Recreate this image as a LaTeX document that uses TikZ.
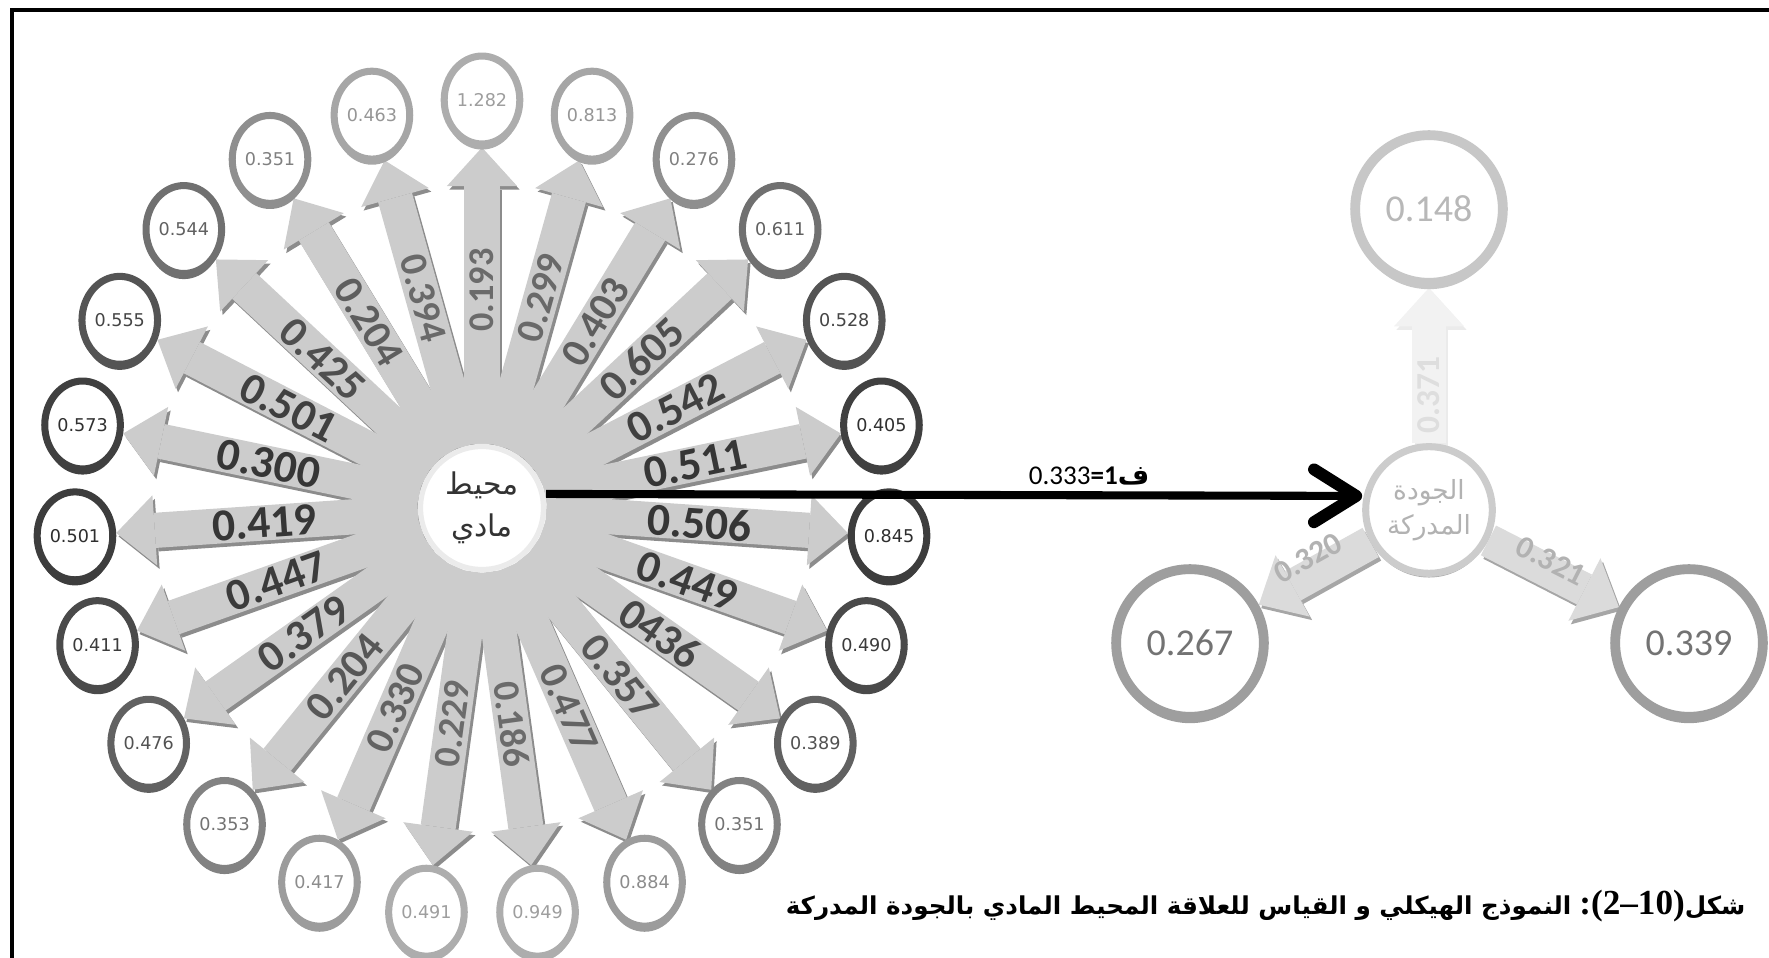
\documentclass[tikz,border=0pt]{standalone}
\usepackage{fontspec}
\setmainfont{Carlito}
\newfontfamily\numfont{DejaVu Sans}
\newfontfamily\arabicfont[Script=Arabic]{DejaVu Sans}
\newfontfamily\capnumfont{Liberation Serif}
\TeXXeTstate=1
\usetikzlibrary{arrows.meta,shapes.geometric,calc,positioning,backgrounds}
\pgfdeclarelayer{shade}
\pgfsetlayers{shade,background,main}

\begin{document}
\begin{tikzpicture}[x=0.01cm, y=0.01cm,
  hub/.style={circle, fill=white, draw=black!8, line width=1.5pt,
              minimum size=35pt, inner sep=0pt, align=center},
  indic/.style={ellipse, fill=white, draw=#1, line width=2pt,
                minimum width=21.5pt, minimum height=25pt, inner sep=0pt,
                preaction={fill=#1, transform canvas={yshift=-1.6pt}},
                font=\numfont\fontsize{5}{6}\selectfont},
  bigind/.style={circle, fill=white, draw=#1, line width=2.8pt,
                 minimum size=42pt, inner sep=0pt,
                 preaction={fill=#1, transform canvas={yshift=-1.8pt}},
                 font=\fontsize{10.8}{12}\selectfont},
  flow/.style={draw=#1, line width=10pt,
               -{Triangle[width=20pt, length=11pt, line width=0pt]}},
  flowshade/.style={flow=#1, transform canvas={shift={(0.7pt,-1pt)}}},
  coef/.style={inner sep=0pt},
  link/.style={line width=2.3pt,
               -{Straight Barb[length=12pt, width=15pt, line width=3.4pt, round]}}
]
\useasboundingbox (0,0) rectangle (1769,-958);

% frame
\draw[line width=1.2pt] (12,-958) -- (12,-10) -- (1769,-10);

% left model: physical environment
\node[hub, text=black!80, font=\arabicfont\fontsize{8.5}{12}\selectfont]
  (hubL) at (482,-508) {\beginR محيط\endR\\\beginR مادي\endR};

\foreach \val/\lab [count=\i from 0] in {1.282/0.193, 0.463/0.394,
    0.351/0.204, 0.544/0.425, 0.555/0.501, 0.573/0.300, 0.501/0.419,
    0.411/0.447, 0.476/0.379, 0.353/0.204, 0.417/0.330, 0.491/0.229,
    0.949/0.186, 0.884/0.477, 0.351/0.357, 0.389/0436, 0.490/0.449,
    0.845/0.506, 0.405/0.511, 0.528/0.542, 0.611/0.605, 0.276/0.403,
    0.813/0.299} {
  \pgfmathsetmacro\a{90+\i*360/23}
  \pgfmathtruncatemacro\k{32+45*cos(\a)^2}
  \pgfmathtruncatemacro\t{38+45*cos(\a)^2}
  \pgfmathtruncatemacro\c{58+22*cos(\a)^2}
  \pgfmathsetmacro\fs{10.3+2.7*abs(cos(\a))}
  \pgfmathsetmacro\r{cos(\a)>-0.01 ? \a : \a-180}
  \node[indic=black!\k, text=black!\t] (o\i) at ($(hubL)+(\a:408)$) {\val};
  \begin{pgfonlayer}{shade}
    \draw[flowshade=black!45] (hubL) -- (o\i);
  \end{pgfonlayer}
  \begin{pgfonlayer}{background}
    \draw[flow=black!20] (hubL) -- (o\i);
  \end{pgfonlayer}
  \node[coef, rotate=\r, text=black!\c, font=\bfseries\fontsize{\fs}{\fs}\selectfont]
    (c\i) at ($(hubL)+(\a:218)$) {\lab};
}

% right model: perceived quality
\node[hub, minimum size=36pt, draw=black!20, line width=2pt, text=black!30,
      font=\arabicfont\fontsize{7.5}{10}\selectfont,
      preaction={fill=black!32, transform canvas={yshift=-1.2pt}}]
  (hubR) at (1429,-510) {\beginR الجودة\endR\\\beginR المدركة\endR};
\node[bigind=black!22, text=black!28] (n148) at (1429,-209) {0.148};
\node[bigind=black!38, text=black!55] (n267) at (1190,-643) {0.267};
\node[bigind=black!38, text=black!55] (n339) at (1689,-643) {0.339};

\begin{pgfonlayer}{shade}
  \draw[flowshade=black!8, line width=9.5pt] (hubR) -- (n148);
  \draw[flowshade=black!35, line width=9.5pt] (hubR) -- (n267);
  \draw[flowshade=black!35, line width=9.5pt] (hubR) -- (n339);
\end{pgfonlayer}
\begin{pgfonlayer}{background}
  \draw[flow=black!5, line width=9.5pt] (hubR) -- (n148);
  \draw[flow=black!14, line width=9.5pt] (hubR) -- (n267);
  \draw[flow=black!14, line width=9.5pt] (hubR) -- (n339);
\end{pgfonlayer}
\node[coef, rotate=90, text=black!13, font=\bfseries\fontsize{9.5}{9.5}\selectfont]
  (c371) at ($(hubR)+(0,115)$) {0.371};
\node[coef, rotate=29, text=black!30, font=\bfseries\fontsize{9}{9}\selectfont]
  (c320) at ($(hubR)+(-121,-48)$) {0.320};
\node[coef, rotate=-27, text=black!30, font=\bfseries\fontsize{9}{9}\selectfont]
  (c321) at ($(hubR)+(122,-51)$) {0.321};

% structural path
\draw[link] ([yshift=4pt]hubL.east) -- ([yshift=4pt]hubR.west);
\node[font=\fontsize{7.7}{9}\selectfont] (f1) at (1089,-476)
  {0.333\textbf{=1}{\arabicfont\bfseries ف}};

% caption
\node[anchor=east, inner sep=0pt] (cap) at (1746,-906)
  {{\arabicfont\bfseries\fontsize{7}{9}\selectfont\beginR النموذج الهيكلي و القياس للعلاقة المحيط المادي بالجودة المدركة\endR}\
   {\capnumfont\bfseries\fontsize{10}{10}\selectfont :(2–10)}{\arabicfont\bfseries\fontsize{7}{9}\selectfont شكل}};
\end{tikzpicture}
\end{document}
